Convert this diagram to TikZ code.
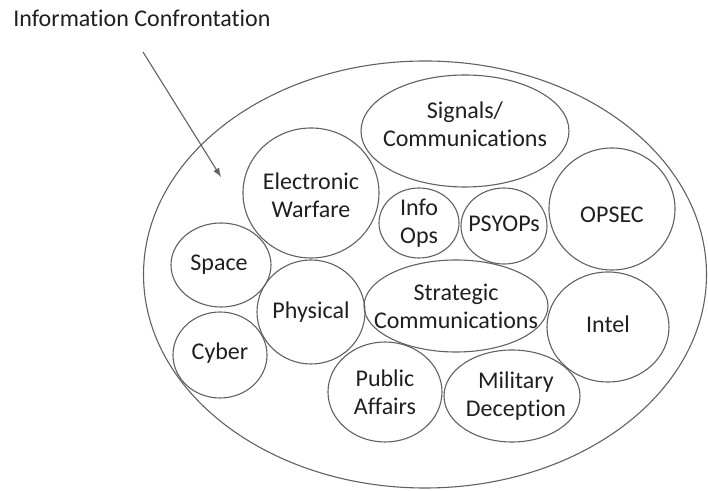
\documentclass[tikz,border=0pt]{standalone}
\usepackage{fontspec}
\setmainfont{Carlito}[Ligatures=NoCommon]
\usetikzlibrary{shapes.geometric,arrows}

\definecolor{linegray}{gray}{0.38}
\definecolor{textgray}{gray}{0.12}

\begin{document}
\begin{tikzpicture}[x=0.5pt,y=-0.5pt,
  bubble/.style={draw=linegray,ellipse,inner sep=0pt,outer sep=0pt,line width=0.55pt},
  every label/.style={align=center,text=textgray,inner sep=0pt,font=\fontsize{12}{14}\selectfont}]

        \useasboundingbox (0,0) rectangle (708,491);

        \node (ic) [bubble,minimum width=281.5pt,minimum height=213.5pt] at (425,274.5) {};

        \node (sig) [bubble,minimum width=104pt,minimum height=56pt,
          label={[yshift=3.5pt]center:Signals/\\Communications}] at (465,131) {};
        \node (ew) [bubble,minimum width=68pt,minimum height=65pt,
          label={[yshift=-1pt]center:Electronic\\Warfare}] at (311,193) {};
        \node (io) [bubble,minimum width=40pt,minimum height=35pt,
          label={center:Info\\Ops}] at (419,223) {};
        \node (psy) [bubble,minimum width=43pt,minimum height=38pt,
          label={[yshift=1pt]center:PSYOPs}] at (504,226) {};
        \node (opsec) [bubble,minimum width=63pt,minimum height=61pt,
          label={[yshift=-3pt]center:OPSEC}] at (612,209) {};
        \node (space) [bubble,minimum width=50pt,minimum height=42pt,
          label={[xshift=-1pt]center:Space}] at (221,265) {};
        \node (phys) [bubble,minimum width=54pt,minimum height=52pt,
          label={center:Physical}] at (311,312) {};
        \node (strat) [bubble,minimum width=92pt,minimum height=46pt,
          label={center:Strategic\\Communications}] at (456,306) {};
        \node (intel) [bubble,minimum width=61pt,minimum height=55pt,
          label={[yshift=1.5pt]center:Intel}] at (608,327) {};
        \node (cyber) [bubble,minimum width=47pt,minimum height=43pt,
          label={[yshift=1pt]center:Cyber}] at (220,355) {};
        \node (pa) [bubble,minimum width=57pt,minimum height=50pt,
          label={center:Public\\Affairs}] at (385,392) {};
        \node (md) [bubble,minimum width=68pt,minimum height=46pt,
          label={[xshift=2pt]center:Military\\Deception}] at (512,396) {};

        \node (title) [anchor=base west,inner sep=0pt,text=textgray,
          font=\fontsize{12}{14}\selectfont] at (13,27) {Information Confrontation};
        \coordinate (tail) at (143,52);
        \coordinate (tip) at (221,177);
        \draw[-latex,draw=linegray,line width=0.55pt] (tail) -- (tip);
      \end{tikzpicture}
\end{document}
